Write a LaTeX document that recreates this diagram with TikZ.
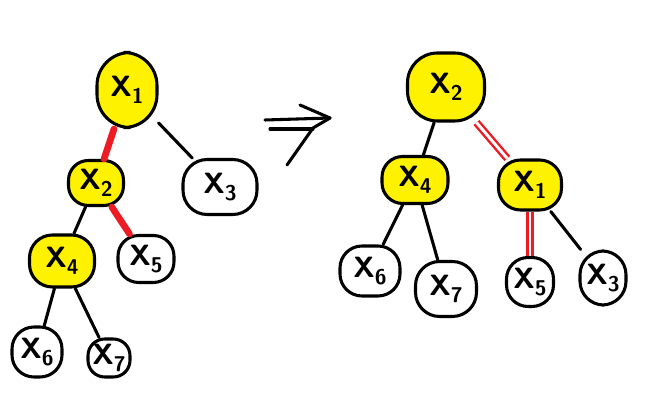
\documentclass[tikz,border=0pt]{standalone}
\definecolor{paintred}{RGB}{237,28,36}
\definecolor{paintyellow}{RGB}{255,242,0}
\begin{document}
\begin{tikzpicture}[x=0.75pt,y=-0.75pt,
  blob/.style 2 args={rectangle, draw=black, line width=2.3pt,
    rounded corners=#2*0.33pt,
    minimum width=#1*0.75pt, minimum height=#2*0.75pt, inner sep=0pt,
    line join=round,
    font=\sffamily\bfseries\fontsize{22}{26}\selectfont},
  hot/.style={fill=paintyellow},
  cold/.style={fill=white},
  edge/.style={draw=black, line width=2.3pt, line cap=round, sharp corners},
  redge/.style={draw=paintred, line width=5pt, line cap=round},
  dredge/.style={draw=paintred, line width=1.8pt, double=white, double distance=2.2pt},
  pen/.style={draw=black, line width=2.3pt, line cap=round, line join=round}]
\useasboundingbox (0,0) rectangle (651,416);
\newcommand{\xl}[1]{X\raisebox{-5pt}{\fontsize{16}{18}\selectfont #1}}
% left tree
\node[blob={60}{75}, hot]  (a1) at (127,90)  {\xl{1}};
\node[blob={55}{45}, hot]  (a2) at (96,183)  {\xl{2}};
\node[blob={74}{55}, cold] (a3) at (220,187) {\xl{3}};
\node[blob={65}{52}, hot]  (a4) at (62,261)  {\xl{4}};
\node[blob={56}{47}, cold] (a5) at (146,259) {\xl{5}};
\node[blob={50}{50}, cold] (a6) at (37,352)  {\xl{6}};
\node[blob={42}{38}, cold] (a7) at (109,358) {\xl{7}};
\draw[redge] (a1) -- (a2);
\draw[edge] (a1) -- (a3);
\draw[edge] (a2) -- (a4);
\draw[redge] (a2) -- (a5);
\draw[edge] (a4) -- (a6);
\draw[edge] (a4) -- (a7);
% arrow
\draw[pen] (265,120) -- (330,118);
\draw[pen] (270,129) -- (313,129);
\draw[pen] (300,105) -- (330,118) -- (313,128) -- (287,165);
% right tree
\node[blob={77}{68}, hot]  (b2) at (446,87)  {\xl{2}};
\node[blob={66}{47}, hot]  (b4) at (415,180) {\xl{4}};
\node[blob={63}{50}, hot]  (b1) at (530,185) {\xl{1}};
\node[blob={60}{50}, cold] (b6) at (370,271) {\xl{6}};
\node[blob={61}{55}, cold] (b7) at (446,289) {\xl{7}};
\node[blob={47}{49}, cold] (b5) at (530,282) {\xl{5}};
\node[blob={46}{54}, cold] (b3) at (603,278) {\xl{3}};
\draw[edge] (b2) -- (b4);
\draw[dredge] (b2) -- (b1);
\draw[edge] (b4) -- (b6);
\draw[edge] (b4) -- (b7);
\draw[dredge] (b1) -- (b5);
\draw[edge] (b1) -- (b3);
\end{tikzpicture}
\end{document}
